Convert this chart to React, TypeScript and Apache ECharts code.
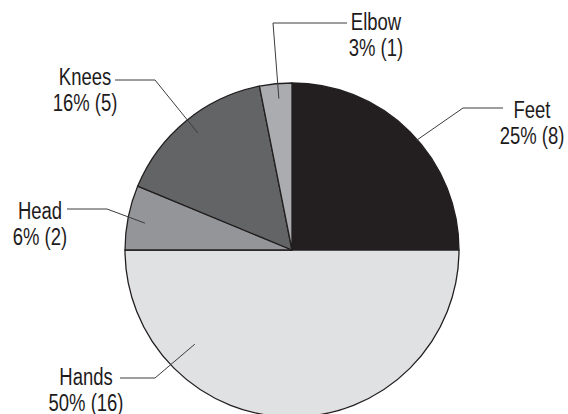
import React, { useEffect, useRef } from "react";
import * as echarts from "echarts";

// Injury locations, clockwise from twelve o'clock
const categories = ["Feet", "Hands", "Head", "Knees", "Elbow"];
const counts = [8, 16, 2, 5, 1];
const sliceColors = ["#231f20", "#e0e1e3", "#949598", "#636466", "#abacaf"];

const CENTER: [number, number] = [292, 250];
const RADIUS = 167;
const LINE_HEIGHT = 26;
const FONT_SIZE = 24;
const TEXT_SQUEEZE = 0.77; // horizontal compression for a condensed look

// Leader placement per slice: where the leader starts (fraction of the slice's sweep
// and of the radius), where it bends, where its horizontal run ends, and the
// centre of the label's first line.
const leaders = [
  { sweep: 0.54, depth: 0.99, bend: [463, 108], end: [503, 108], text: [532, 110] },
  { sweep: 0.755, depth: 0.81, bend: [155, 378], end: [120, 378], text: [86, 377] },
  { sweep: 0.46, depth: 0.895, bend: [107, 209], end: [67, 209], text: [40, 211] },
  { sweep: 0.51, depth: 0.9, bend: [155, 80], end: [115, 80], text: [85, 77] },
  { sweep: 0.56, depth: 0.91, bend: [273, 23], end: [347, 23], text: [376, 22] },
];

const total = counts.reduce((a, b) => a + b, 0);
const sliceStarts: number[] = [];
{
  let acc = 0;
  counts.forEach((c) => {
    sliceStarts.push((acc / total) * 360);
    acc += c;
  });
}

function leaderAnchor(i: number): number[] {
  const l = leaders[i];
  const deg = sliceStarts[i] + l.sweep * (counts[i] / total) * 360;
  const t = (deg * Math.PI) / 180;
  const r = RADIUS * l.depth;
  return [CENTER[0] + r * Math.sin(t), CENTER[1] - r * Math.cos(t)];
}

const FONT = "'Liberation Sans', Arial, sans-serif";

function labelText(i: number): string {
  const pct = Math.round((counts[i] / total) * 100);
  return `${categories[i]}\n${pct}% (${counts[i]})`;
}

export default function App() {
  const ref = useRef<HTMLDivElement>(null);

  useEffect(() => {
    if (!ref.current) return;
    const chart = echarts.init(ref.current, undefined, { renderer: "svg" });

    const leaderLines = categories.map((_, i) => ({
      type: "polyline",
      silent: true,
      shape: { points: [leaderAnchor(i), leaders[i].bend, leaders[i].end] },
      style: { stroke: "#3c3c3c", lineWidth: 1, fill: null },
      z: 10,
    }));

    const labels = categories.map((_, i) => ({
      type: "text",
      silent: true,
      x: leaders[i].text[0],
      y: leaders[i].text[1] - LINE_HEIGHT / 2,
      scaleX: TEXT_SQUEEZE,
      style: {
        text: labelText(i),
        fontFamily: FONT,
        fontSize: FONT_SIZE,
        lineHeight: LINE_HEIGHT,
        fill: "#1e1b1c",
        align: "center",
        verticalAlign: "top",
        textAlign: "center",
        textVerticalAlign: "top",
      },
      z: 10,
    }));

    chart.setOption({
      animation: false,
      backgroundColor: "#ffffff",
      graphic: [...leaderLines, ...labels],
      series: [
        {
          type: "pie",
          center: CENTER,
          radius: RADIUS,
          startAngle: 90,
          clockwise: true,
          emphasis: { disabled: true },
          itemStyle: { borderColor: "#231f20", borderWidth: 1.3 },
          label: { show: false },
          labelLine: { show: false },
          data: categories.map((name, i) => ({
            name,
            value: counts[i],
            itemStyle: { color: sliceColors[i] },
          })),
        },
      ],
    });
    return () => chart.dispose();
  }, []);

  return (
    <div
      ref={ref}
      style={{ position: "absolute", left: 0, top: 0, width: 568, height: 414 }}
    />
  );
}
